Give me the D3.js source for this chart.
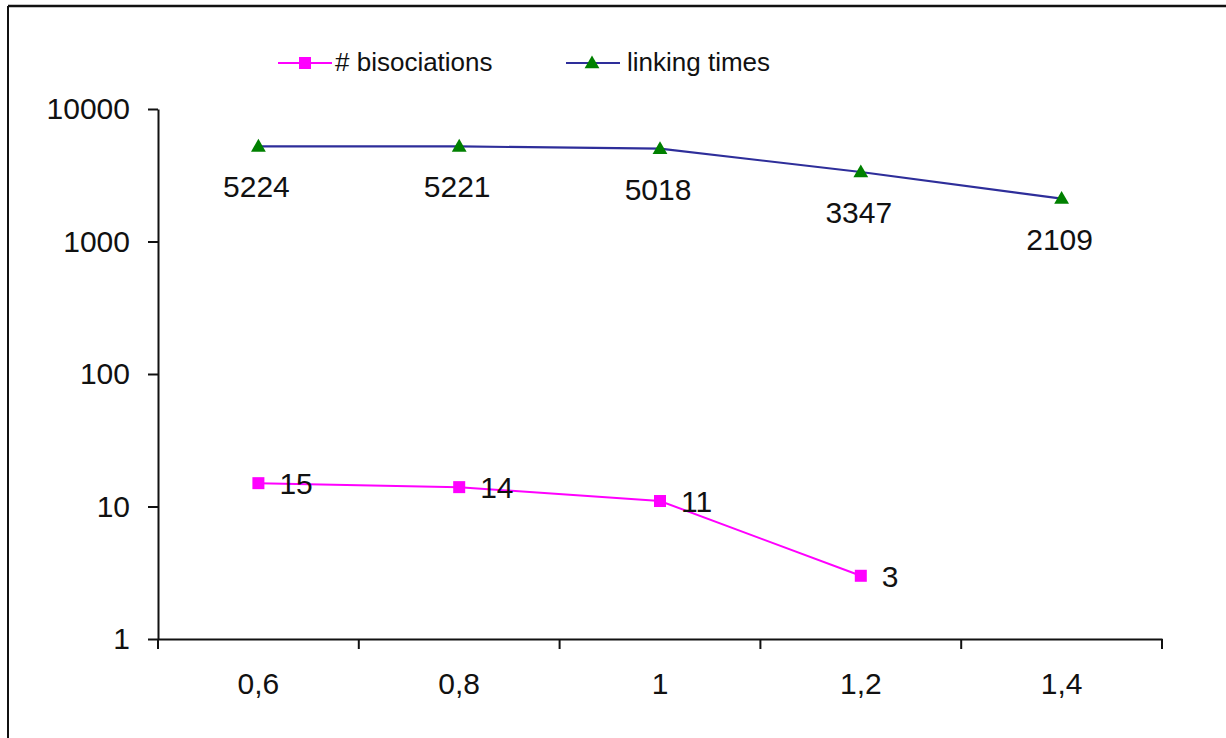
<!DOCTYPE html>
<html>
<head>
<meta charset="utf-8">
<script src="https://cdn.jsdelivr.net/npm/d3@7"></script>
<style>
  html, body { margin: 0; padding: 0; background: #fff; }
  svg { display: block; }
  text { font-family: "Liberation Sans", Arial, sans-serif; fill: #111; }
</style>
</head>
<body>
<svg id="chart" width="1226" height="738"></svg>
<script>
const categories = ["0,6", "0,8", "1", "1,2", "1,4"];
const bisociations = [15, 14, 11, 3, null];
const linkingTimes = [5224, 5221, 5018, 3347, 2109];
const yTicks = [1, 10, 100, 1000, 10000];
const seriesNames = ["# bisociations", "linking times"];

(function () {
const svg = d3.select("#chart");
const W = 1226, H = 738;
const plotLeft = 158, plotRight = 1162, plotTop = 109, plotBottom = 639;

// outer frame (left and top edges)
svg.append("line").attr("x1", 8).attr("x2", W).attr("y1", 6).attr("y2", 6)
  .attr("stroke", "#111").attr("stroke-width", 2.5);
svg.append("line").attr("x1", 8).attr("x2", 8).attr("y1", 6).attr("y2", H)
  .attr("stroke", "#111").attr("stroke-width", 2);

const x = d3.scaleBand().domain(categories).range([plotLeft, plotRight]).paddingInner(0).paddingOuter(0);
const cx = c => x(c) + x.bandwidth() / 2;
const y = d3.scaleLog().domain([1, 10000]).range([plotBottom, plotTop]);

// Y axis
const yAxis = svg.append("g").attr("transform", `translate(${plotLeft},0)`)
  .call(d3.axisLeft(y).tickValues(yTicks).tickFormat(d3.format("d")).tickSize(10).tickSizeOuter(0).tickPadding(18));
yAxis.select(".domain").attr("stroke", "#111").attr("stroke-width", 2);
yAxis.selectAll(".tick line").attr("stroke", "#111").attr("stroke-width", 2);
yAxis.selectAll(".tick text").attr("font-size", 30).attr("fill", "#111")
  .style("font-family", '"Liberation Sans", Arial, sans-serif');

// X axis (labels centered in bands, ticks at band edges)
const xAxis = svg.append("g").attr("transform", `translate(0,${plotBottom})`)
  .call(d3.axisBottom(x).tickSize(0).tickSizeOuter(0).tickPadding(34));
xAxis.select(".domain").attr("stroke", "#111").attr("stroke-width", 2);
xAxis.selectAll(".tick text").attr("font-size", 30).attr("fill", "#111")
  .style("font-family", '"Liberation Sans", Arial, sans-serif');
const edges = categories.map(c => x(c)).concat([x(categories[categories.length - 1]) + x.bandwidth()]);
xAxis.selectAll(".edge").data(edges).enter().append("line")
  .attr("x1", d => d).attr("x2", d => d).attr("y1", 0).attr("y2", 10)
  .attr("stroke", "#111").attr("stroke-width", 2);

// Lines
const blue = "#2e2e9a", pink = "#ff00ff", green = "#008000";
const lineGen = d3.line().defined(d => d.v != null).x(d => cx(d.c)).y(d => y(d.v));
const ltData = categories.map((c, i) => ({ c, v: linkingTimes[i] }));
const bsData = categories.map((c, i) => ({ c, v: bisociations[i] }));

svg.append("path").datum(ltData).attr("d", lineGen)
  .attr("fill", "none").attr("stroke", blue).attr("stroke-width", 2.2);
svg.append("path").datum(bsData).attr("d", lineGen)
  .attr("fill", "none").attr("stroke", pink).attr("stroke-width", 2);

const tri = d3.symbol().type(d3.symbolTriangle).size(95);

svg.selectAll(".lt").data(ltData).enter().append("path")
  .attr("d", tri).attr("fill", green)
  .attr("transform", d => `translate(${cx(d.c)},${y(d.v) + 1})`);
svg.selectAll(".bs").data(bsData.filter(d => d.v != null)).enter().append("rect")
  .attr("x", d => cx(d.c) - 6).attr("y", d => y(d.v) - 6)
  .attr("width", 12).attr("height", 12).attr("fill", pink);

// Data labels
svg.selectAll(".ltl").data(ltData).enter().append("text")
  .attr("x", d => cx(d.c) - 2).attr("y", d => y(d.v) + 51)
  .attr("text-anchor", "middle").attr("font-size", 30).text(d => d.v);
svg.selectAll(".bsl").data(bsData.filter(d => d.v != null)).enter().append("text")
  .attr("x", d => cx(d.c) + 21).attr("y", d => y(d.v) + 11)
  .attr("font-size", 30).text(d => d.v);

// Legend
const lg = svg.append("g");
const ly = 63;
lg.append("line").attr("x1", 278).attr("x2", 332).attr("y1", ly).attr("y2", ly)
  .attr("stroke", pink).attr("stroke-width", 2);
lg.append("rect").attr("x", 299).attr("y", ly - 6).attr("width", 12).attr("height", 12).attr("fill", pink);
lg.append("text").attr("x", 335).attr("y", ly + 8).attr("font-size", 26).text(seriesNames[0]);
lg.append("line").attr("x1", 566).attr("x2", 620).attr("y1", ly).attr("y2", ly)
  .attr("stroke", blue).attr("stroke-width", 2.2);
lg.append("path").attr("d", tri).attr("fill", green).attr("transform", `translate(592,${ly + 1})`);
lg.append("text").attr("x", 627).attr("y", ly + 8).attr("font-size", 26).text(seriesNames[1]);
})();
</script>
</body>
</html>
